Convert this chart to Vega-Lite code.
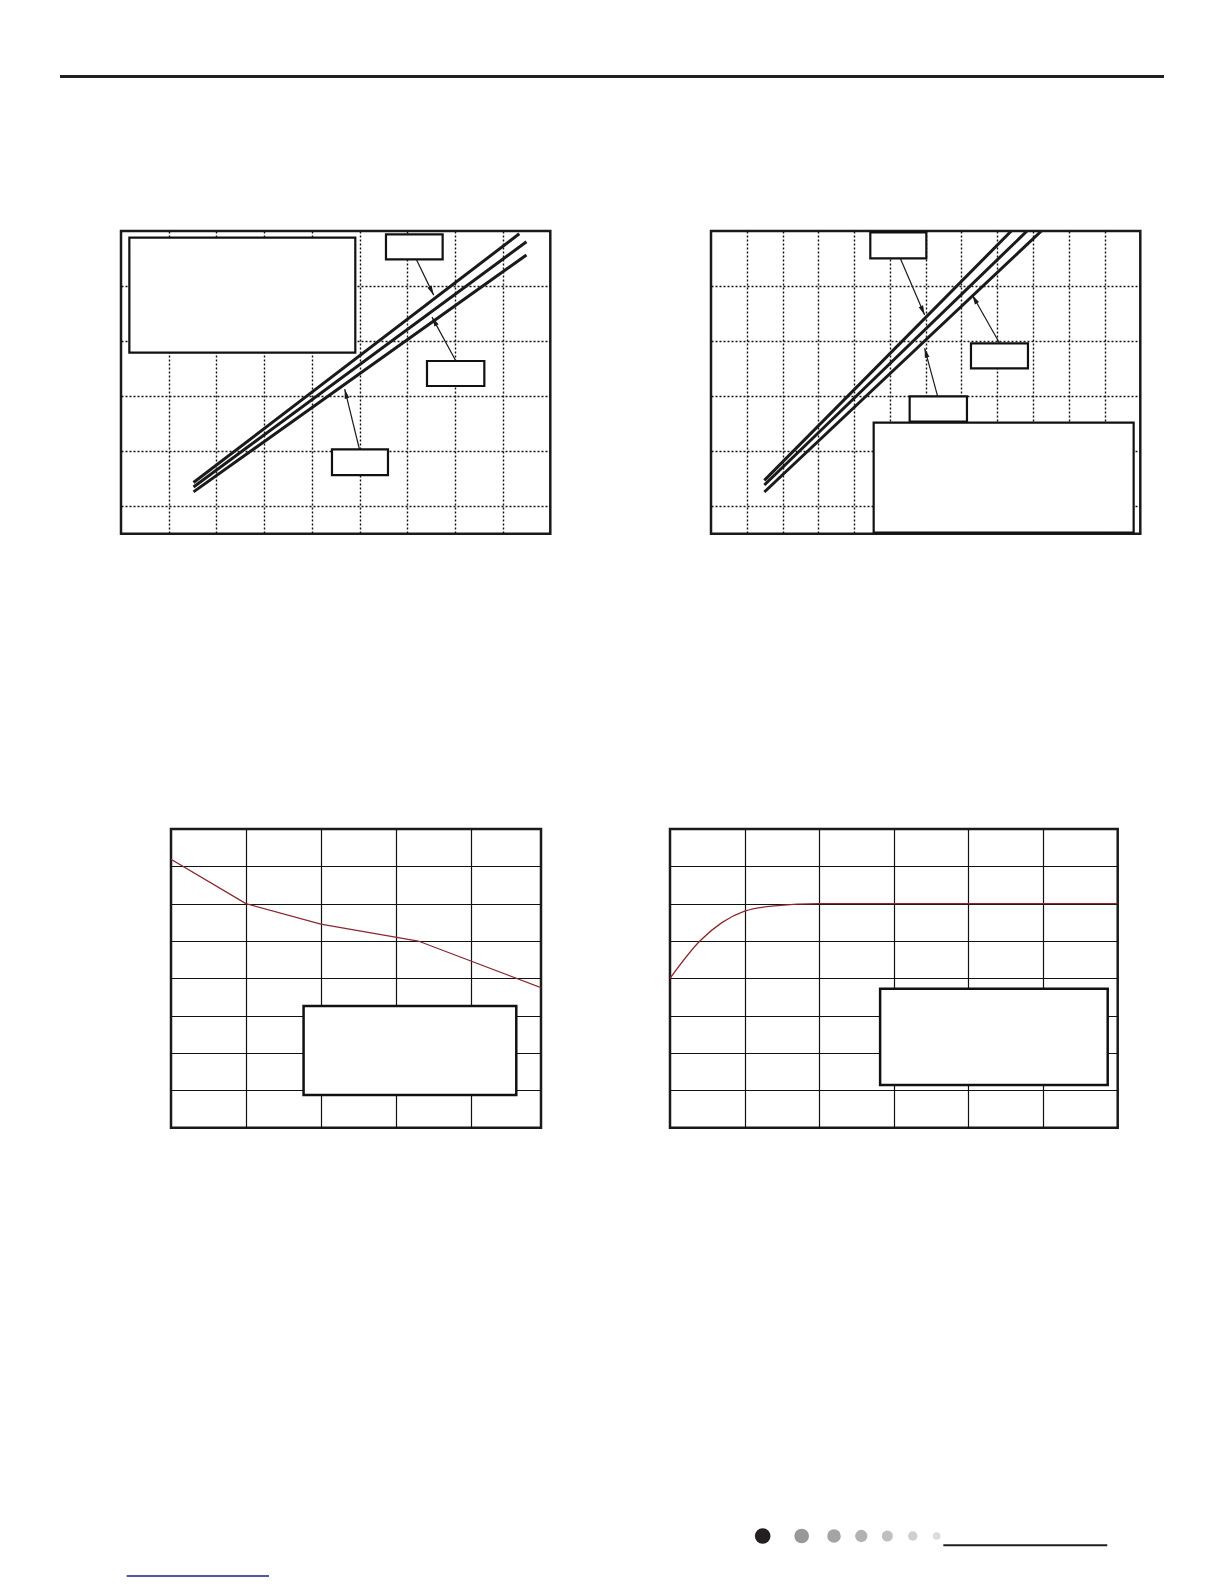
{
  "$schema": "https://vega.github.io/schema/vega-lite/v6.json",
  "background": "white",
  "padding": {"left": 60, "top": 75, "right": 0, "bottom": 0},
  "spacing": 0,
  "datasets": {
    "cool_lines": [
      {"series": "A", "x": 1.52, "y": 1.86}, {"series": "A", "x": 8.35, "y": 10.9},
      {"series": "B", "x": 1.52, "y": 1.7}, {"series": "B", "x": 8.5, "y": 10.61},
      {"series": "C", "x": 1.52, "y": 1.52}, {"series": "C", "x": 8.5, "y": 10.13}
    ],
    "cool_boxes": [
      {"x0": 0.175, "x1": 4.912, "y0": 6.58, "y1": 10.76},
      {"x0": 5.555, "x1": 6.743, "y0": 9.97, "y1": 10.88},
      {"x0": 6.415, "x1": 7.617, "y0": 5.367, "y1": 6.275},
      {"x0": 4.423, "x1": 5.597, "y0": 2.132, "y1": 3.065}
    ],
    "cool_leaders": [
      {"id": "a", "x0": 6.19, "y0": 9.97, "x1": 6.555, "y1": 8.67},
      {"id": "b", "x0": 7.01, "y0": 6.31, "x1": 6.52, "y1": 7.87},
      {"id": "c", "x0": 5.0, "y0": 3.06, "x1": 4.69, "y1": 5.25}
    ],
    "heat_lines": [
      {"series": "A", "x": 1.491, "y": 1.938}, {"series": "A", "x": 8.394, "y": 11},
      {"series": "B", "x": 1.491, "y": 1.769}, {"series": "B", "x": 8.834, "y": 11},
      {"series": "C", "x": 1.491, "y": 1.515}, {"series": "C", "x": 9.235, "y": 11}
    ],
    "heat_boxes": [
      {"x0": 4.453, "x1": 6.019, "y0": 10.007, "y1": 10.95},
      {"x0": 7.267, "x1": 8.86, "y0": 6.009, "y1": 6.918},
      {"x0": 5.553, "x1": 7.155, "y0": 4.07, "y1": 4.991},
      {"x0": 4.547, "x1": 11.814, "y0": 0.036, "y1": 4.034}
    ],
    "heat_leaders": [
      {"id": "a", "x0": 5.29, "y0": 10.007, "x1": 5.972, "y1": 7.947},
      {"id": "b", "x0": 8.068, "y0": 6.918, "x1": 7.304, "y1": 8.674},
      {"id": "c", "x0": 6.335, "y0": 4.991, "x1": 5.972, "y1": 6.736}
    ],
    "curve_a": [
      {"x": 0, "y": 7.19}, {"x": 1, "y": 6.0}, {"x": 2, "y": 5.45},
      {"x": 3.3, "y": 5.0}, {"x": 4.94, "y": 3.75}
    ],
    "curve_b": [
      {"x": 0, "y": 4.0}, {"x": 0.4, "y": 5.0}, {"x": 0.7, "y": 5.5},
      {"x": 1.0, "y": 5.8}, {"x": 1.4, "y": 5.94}, {"x": 2, "y": 6.0}, {"x": 6, "y": 6.0}
    ],
    "dots": [
      {"rank": 1, "pos": 63.65}, {"rank": 2, "pos": 67.18}, {"rank": 3, "pos": 70.11},
      {"rank": 4, "pos": 72.58}, {"rank": 5, "pos": 74.94}, {"rank": 6, "pos": 77.24},
      {"rank": 7, "pos": 79.41}
    ]
  },
  "vconcat": [
    {
      "width": 1104, "height": 3, "view": {"stroke": null},
      "data": {"values": [{"from": 0, "to": 1}]},
      "mark": {"type": "rect", "color": "#231f20"},
      "encoding": {
        "x": {"field": "from", "type": "quantitative", "scale": {"domain": [0, 1]}, "axis": null},
        "x2": {"field": "to"},
        "y": {"datum": 0, "scale": {"domain": [0, 1]}, "axis": null},
        "y2": {"datum": 1}
      }
    },
    {
      "width": 100, "height": 150.1, "view": {"stroke": null},
      "data": {"values": [{}]},
      "mark": {"type": "point", "opacity": 0, "size": 1}
    },
    {
      "spacing": 0,
      "hconcat": [
        {
          "width": 58.8, "height": 100, "view": {"stroke": null},
          "data": {"values": [{}]},
          "mark": {"type": "point", "opacity": 0, "size": 1}
        },
        {
          "width": 429.3, "height": 302.7,
          "layer": [
            {
              "data": {"name": "cool_lines"},
              "mark": {"type": "line", "strokeWidth": 3, "color": "#1a1a1a", "clip": true},
              "encoding": {
                "x": {"field": "x", "type": "quantitative", "title": null,
                      "scale": {"domain": [0, 9], "nice": false},
                      "axis": {"values": [1, 2, 3, 4, 5, 6, 7, 8], "gridDash": [2, 2]}},
                "y": {"field": "y", "type": "quantitative", "title": null,
                      "scale": {"domain": [0, 11], "nice": false},
                      "axis": {"values": [1, 2, 3, 4, 5, 6, 7, 8, 9, 10], "gridDash": [2, 2]}},
                "detail": {"field": "series"}
              }
            },
            {
              "data": {"name": "cool_boxes"},
              "mark": {"type": "rect", "fill": "white", "stroke": "#111111", "strokeWidth": 2.2, "clip": true},
              "encoding": {
                "x": {"field": "x0", "type": "quantitative", "title": null},
                "x2": {"field": "x1"},
                "y": {"field": "y0", "type": "quantitative", "title": null},
                "y2": {"field": "y1"}
              }
            },
            {
              "data": {"name": "cool_leaders"},
              "mark": {"type": "rule", "strokeWidth": 1.2, "color": "#1a1a1a"},
              "encoding": {
                "x": {"field": "x0", "type": "quantitative", "title": null},
                "x2": {"field": "x1"},
                "y": {"field": "y0", "type": "quantitative", "title": null},
                "y2": {"field": "y1"}
              }
            },
            {
              "data": {"name": "cool_leaders"},
              "transform": [{"filter": "datum.id == 'a'"}],
              "mark": {"type": "point", "shape": "M0,0L0.5,2L-0.5,2Z", "filled": true, "opacity": 1, "color": "#1a1a1a", "size": 90, "angle": 154},
              "encoding": {
                "x": {"field": "x1", "type": "quantitative", "title": null},
                "y": {"field": "y1", "type": "quantitative", "title": null}
              }
            },
            {
              "data": {"name": "cool_leaders"},
              "transform": [{"filter": "datum.id == 'b'"}],
              "mark": {"type": "point", "shape": "M0,0L0.5,2L-0.5,2Z", "filled": true, "opacity": 1, "color": "#1a1a1a", "size": 90, "angle": 331.5},
              "encoding": {
                "x": {"field": "x1", "type": "quantitative", "title": null},
                "y": {"field": "y1", "type": "quantitative", "title": null}
              }
            },
            {
              "data": {"name": "cool_leaders"},
              "transform": [{"filter": "datum.id == 'c'"}],
              "mark": {"type": "point", "shape": "M0,0L0.5,2L-0.5,2Z", "filled": true, "opacity": 1, "color": "#1a1a1a", "size": 90, "angle": 346},
              "encoding": {
                "x": {"field": "x1", "type": "quantitative", "title": null},
                "y": {"field": "y1", "type": "quantitative", "title": null}
              }
            }
          ]
        },
        {
          "width": 156.9, "height": 100, "view": {"stroke": null},
          "data": {"values": [{}]},
          "mark": {"type": "point", "opacity": 0, "size": 1}
        },
        {
          "width": 429.3, "height": 302.7,
          "layer": [
            {
              "data": {"name": "heat_lines"},
              "mark": {"type": "line", "strokeWidth": 3, "color": "#1a1a1a", "clip": true},
              "encoding": {
                "x": {"field": "x", "type": "quantitative", "title": null,
                      "scale": {"domain": [0, 12], "nice": false},
                      "axis": {"values": [1, 2, 3, 4, 5, 6, 7, 8, 9, 10, 11], "gridDash": [2, 2]}},
                "y": {"field": "y", "type": "quantitative", "title": null,
                      "scale": {"domain": [0, 11], "nice": false},
                      "axis": {"values": [1, 2, 3, 4, 5, 6, 7, 8, 9, 10], "gridDash": [2, 2]}},
                "detail": {"field": "series"}
              }
            },
            {
              "data": {"name": "heat_boxes"},
              "mark": {"type": "rect", "fill": "white", "stroke": "#111111", "strokeWidth": 2.2, "clip": true},
              "encoding": {
                "x": {"field": "x0", "type": "quantitative", "title": null},
                "x2": {"field": "x1"},
                "y": {"field": "y0", "type": "quantitative", "title": null},
                "y2": {"field": "y1"}
              }
            },
            {
              "data": {"name": "heat_leaders"},
              "mark": {"type": "rule", "strokeWidth": 1.2, "color": "#1a1a1a"},
              "encoding": {
                "x": {"field": "x0", "type": "quantitative", "title": null},
                "x2": {"field": "x1"},
                "y": {"field": "y0", "type": "quantitative", "title": null},
                "y2": {"field": "y1"}
              }
            },
            {
              "data": {"name": "heat_leaders"},
              "transform": [{"filter": "datum.id == 'a'"}],
              "mark": {"type": "point", "shape": "M0,0L0.5,2L-0.5,2Z", "filled": true, "opacity": 1, "color": "#1a1a1a", "size": 90, "angle": 156.8},
              "encoding": {
                "x": {"field": "x1", "type": "quantitative", "title": null},
                "y": {"field": "y1", "type": "quantitative", "title": null}
              }
            },
            {
              "data": {"name": "heat_leaders"},
              "transform": [{"filter": "datum.id == 'b'"}],
              "mark": {"type": "point", "shape": "M0,0L0.5,2L-0.5,2Z", "filled": true, "opacity": 1, "color": "#1a1a1a", "size": 90, "angle": 330.5},
              "encoding": {
                "x": {"field": "x1", "type": "quantitative", "title": null},
                "y": {"field": "y1", "type": "quantitative", "title": null}
              }
            },
            {
              "data": {"name": "heat_leaders"},
              "transform": [{"filter": "datum.id == 'c'"}],
              "mark": {"type": "point", "shape": "M0,0L0.5,2L-0.5,2Z", "filled": true, "opacity": 1, "color": "#1a1a1a", "size": 90, "angle": 344.8},
              "encoding": {
                "x": {"field": "x1", "type": "quantitative", "title": null},
                "y": {"field": "y1", "type": "quantitative", "title": null}
              }
            }
          ]
        }
      ]
    },
    {
      "width": 100, "height": 291.5, "view": {"stroke": null},
      "data": {"values": [{}]},
      "mark": {"type": "point", "opacity": 0, "size": 1}
    },
    {
      "spacing": 0,
      "hconcat": [
        {
          "width": 108.1, "height": 100, "view": {"stroke": null},
          "data": {"values": [{}]},
          "mark": {"type": "point", "opacity": 0, "size": 1}
        },
        {
          "width": 370, "height": 298.7,
          "layer": [
            {
              "data": {"name": "curve_a"},
              "mark": {"type": "line", "strokeWidth": 1.3, "color": "#8b2832", "clip": true},
              "encoding": {
                "x": {"field": "x", "type": "quantitative", "title": null,
                      "scale": {"domain": [0, 4.94], "nice": false},
                      "axis": {"values": [1, 2, 3, 4], "gridWidth": 1.2, "gridDash": []}},
                "y": {"field": "y", "type": "quantitative", "title": null,
                      "scale": {"domain": [0, 8], "nice": false},
                      "axis": {"values": [1, 2, 3, 4, 5, 6, 7], "gridWidth": 1.2, "gridDash": []}}
              }
            },
            {
              "data": {"values": [{"x0": 1.77, "x1": 4.61, "y0": 0.875, "y1": 3.26}]},
              "mark": {"type": "rect", "fill": "white", "stroke": "#111111", "strokeWidth": 2.5, "clip": true},
              "encoding": {
                "x": {"field": "x0", "type": "quantitative", "title": null},
                "x2": {"field": "x1"},
                "y": {"field": "y0", "type": "quantitative", "title": null},
                "y2": {"field": "y1"}
              }
            }
          ]
        },
        {
          "width": 125, "height": 100, "view": {"stroke": null},
          "data": {"values": [{}]},
          "mark": {"type": "point", "opacity": 0, "size": 1}
        },
        {
          "width": 447.7, "height": 298.7,
          "layer": [
            {
              "data": {"name": "curve_b"},
              "mark": {"type": "line", "strokeWidth": 1.3, "color": "#8b2832", "interpolate": "monotone", "clip": true},
              "encoding": {
                "x": {"field": "x", "type": "quantitative", "title": null,
                      "scale": {"domain": [0, 6], "nice": false},
                      "axis": {"values": [1, 2, 3, 4, 5], "gridWidth": 1.2, "gridDash": []}},
                "y": {"field": "y", "type": "quantitative", "title": null,
                      "scale": {"domain": [0, 8], "nice": false},
                      "axis": {"values": [1, 2, 3, 4, 5, 6, 7], "gridWidth": 1.2, "gridDash": []}}
              }
            },
            {
              "data": {"values": [{"x0": 2.816, "x1": 5.866, "y0": 1.143, "y1": 3.72}]},
              "mark": {"type": "rect", "fill": "white", "stroke": "#111111", "strokeWidth": 2.5, "clip": true},
              "encoding": {
                "x": {"field": "x0", "type": "quantitative", "title": null},
                "x2": {"field": "x1"},
                "y": {"field": "y0", "type": "quantitative", "title": null},
                "y2": {"field": "y1"}
              }
            }
          ]
        }
      ]
    },
    {
      "width": 100, "height": 391.4, "view": {"stroke": null},
      "data": {"values": [{}]},
      "mark": {"type": "point", "opacity": 0, "size": 1}
    },
    {
      "width": 1104, "height": 60, "view": {"stroke": null},
      "layer": [
        {
          "data": {"name": "dots"},
          "mark": {"type": "point", "filled": true, "opacity": 1, "strokeWidth": 0},
          "encoding": {
            "x": {"field": "pos", "type": "quantitative", "scale": {"domain": [0, 100], "nice": false}, "axis": null},
            "y": {"datum": 7.5, "scale": {"domain": [0, 10], "nice": false}, "axis": null},
            "size": {"field": "rank", "type": "quantitative", "scale": {"domain": [1, 7], "range": [246, 59]}, "legend": null},
            "color": {"field": "rank", "type": "ordinal", "scale": {"range": ["#231f20", "#98989b", "#a4a4a7", "#b2b2b4", "#bfbfc1", "#cfcfd0", "#dcdcdd"]}, "legend": null}
          }
        },
        {
          "data": {"values": [{"from": 80.01, "to": 94.86, "level": 5.95}]},
          "mark": {"type": "rule", "strokeWidth": 2, "color": "#231f20"},
          "encoding": {
            "x": {"field": "from", "type": "quantitative", "axis": null},
            "x2": {"field": "to"},
            "y": {"field": "level", "type": "quantitative", "axis": null}
          }
        },
        {
          "data": {"values": [{"from": 6.04, "to": 18.93, "level": 0.83}]},
          "mark": {"type": "rule", "strokeWidth": 1.3, "color": "#1c1c8c"},
          "encoding": {
            "x": {"field": "from", "type": "quantitative", "axis": null},
            "x2": {"field": "to"},
            "y": {"field": "level", "type": "quantitative", "axis": null}
          }
        }
      ]
    }
  ],
  "config": {
    "view": {"stroke": "#1a1a1a", "strokeWidth": 2.5},
    "axis": {
      "labels": false,
      "ticks": false,
      "domain": false,
      "grid": true,
      "gridColor": "#111111",
      "gridOpacity": 1,
      "gridWidth": 1.4
    }
  }
}
